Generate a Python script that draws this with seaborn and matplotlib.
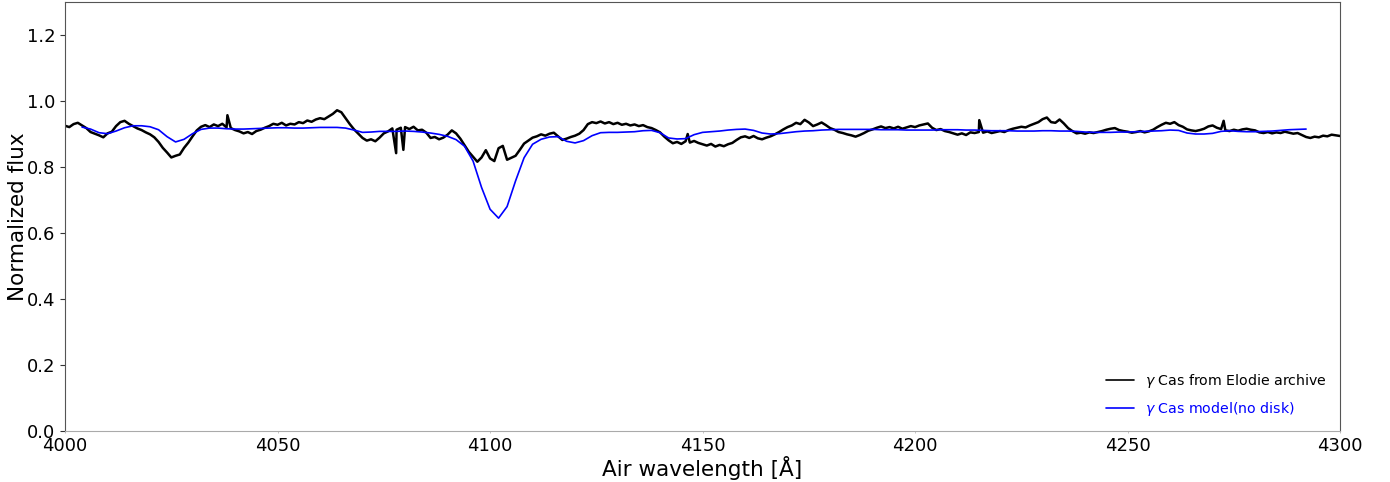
import numpy as np
import pandas as pd
import matplotlib
matplotlib.use("Agg")
import matplotlib.pyplot as plt
import seaborn as sns

# Observed spectrum of gamma Cas (Elodie archive), sampled every 1 A from 4000 to 4300 A
obs_wave = np.arange(4000, 4301, 1)
obs_flux = [
    0.925, 0.921, 0.930, 0.934, 0.926, 0.918, 0.906, 0.901, 0.896, 0.890,
    0.902, 0.907, 0.924, 0.936, 0.940, 0.931, 0.924, 0.917, 0.912, 0.905,
    0.899, 0.890, 0.876, 0.858, 0.844, 0.829, 0.834, 0.838, 0.858, 0.874,
    0.893, 0.911, 0.922, 0.927, 0.921, 0.929, 0.924, 0.931, 0.920, 0.918,
    0.912, 0.908, 0.902, 0.906, 0.900, 0.909, 0.913, 0.919, 0.924, 0.931,
    0.928, 0.934, 0.926, 0.931, 0.929, 0.936, 0.933, 0.941, 0.937, 0.944,
    0.948, 0.945, 0.953, 0.961, 0.972, 0.966, 0.948, 0.930, 0.914, 0.901,
    0.888, 0.880, 0.884, 0.878, 0.889, 0.902, 0.908, 0.917, 0.913, 0.919,
    0.921, 0.915, 0.922, 0.911, 0.913, 0.904, 0.888, 0.891, 0.884, 0.889,
    0.898, 0.911, 0.902, 0.886, 0.866, 0.846, 0.831, 0.816, 0.829, 0.851,
    0.826, 0.818, 0.857, 0.864, 0.822, 0.828, 0.834, 0.852, 0.871, 0.880,
    0.889, 0.893, 0.899, 0.895, 0.901, 0.904, 0.893, 0.882, 0.886, 0.891,
    0.895, 0.901, 0.912, 0.930, 0.936, 0.933, 0.938, 0.932, 0.936, 0.930,
    0.934, 0.928, 0.931, 0.926, 0.929, 0.924, 0.927, 0.921, 0.918, 0.912,
    0.905, 0.892, 0.881, 0.872, 0.876, 0.870, 0.878, 0.874, 0.879, 0.873,
    0.869, 0.865, 0.870, 0.862, 0.867, 0.863, 0.869, 0.873, 0.882, 0.890,
    0.893, 0.888, 0.894, 0.887, 0.884, 0.889, 0.893, 0.899, 0.906, 0.914,
    0.921, 0.926, 0.934, 0.930, 0.943, 0.935, 0.924, 0.929, 0.935, 0.927,
    0.918, 0.913, 0.906, 0.903, 0.899, 0.896, 0.892, 0.897, 0.903, 0.910,
    0.914, 0.919, 0.923, 0.918, 0.921, 0.917, 0.922, 0.916, 0.920, 0.924,
    0.921, 0.926, 0.929, 0.932, 0.919, 0.912, 0.915, 0.909, 0.906, 0.902,
    0.898, 0.902, 0.897, 0.905, 0.903, 0.906, 0.904, 0.908, 0.903, 0.906,
    0.909, 0.906, 0.912, 0.916, 0.919, 0.922, 0.920, 0.926, 0.931, 0.936,
    0.945, 0.950, 0.936, 0.934, 0.944, 0.932, 0.918, 0.909, 0.902, 0.904,
    0.901, 0.905, 0.903, 0.906, 0.909, 0.913, 0.916, 0.918, 0.912, 0.909,
    0.907, 0.904, 0.906, 0.909, 0.905, 0.908, 0.913, 0.921, 0.928, 0.934,
    0.931, 0.936, 0.927, 0.922, 0.914, 0.911, 0.909, 0.912, 0.916, 0.923,
    0.926, 0.919, 0.915, 0.911, 0.909, 0.913, 0.910, 0.914, 0.916, 0.913,
    0.911, 0.905, 0.903, 0.906, 0.902, 0.905, 0.903, 0.907, 0.904, 0.901,
    0.903, 0.897, 0.891, 0.888, 0.892, 0.890, 0.895, 0.893, 0.898, 0.896,
    0.894,
]

# Narrow features (cosmic-ray hits / telluric lines) between the 1 A samples
narrow_wave = [4038.2, 4077.9, 4079.6, 4146.5, 4215.1, 4272.6]
narrow_flux = [0.957, 0.842, 0.852, 0.900, 0.942, 0.940]

# Synthetic photospheric model without a disk, sampled every 2 A
model_wave = np.arange(4004, 4293, 2)
model_flux = [
    0.921, 0.915, 0.904, 0.901, 0.909, 0.919, 0.925, 0.925, 0.922, 0.913,
    0.892, 0.876, 0.884, 0.901, 0.914, 0.918, 0.918, 0.916, 0.915, 0.915,
    0.916, 0.917, 0.918, 0.919, 0.919, 0.918, 0.918, 0.919, 0.920, 0.920,
    0.920, 0.918, 0.912, 0.905, 0.906, 0.908, 0.908, 0.908, 0.909, 0.908,
    0.906, 0.903, 0.899, 0.893, 0.883, 0.863, 0.818, 0.738, 0.672, 0.645,
    0.680, 0.758, 0.828, 0.869, 0.884, 0.891, 0.892, 0.878, 0.873, 0.880,
    0.895, 0.904, 0.905, 0.905, 0.906, 0.907, 0.910, 0.911, 0.904, 0.888,
    0.885, 0.886, 0.898, 0.905, 0.907, 0.909, 0.912, 0.914, 0.915, 0.911,
    0.903, 0.900, 0.901, 0.904, 0.907, 0.909, 0.910, 0.912, 0.913, 0.914,
    0.914, 0.914, 0.914, 0.914, 0.913, 0.913, 0.913, 0.912, 0.912, 0.912,
    0.912, 0.913, 0.913, 0.913, 0.912, 0.912, 0.911, 0.910, 0.910, 0.910,
    0.909, 0.909, 0.909, 0.910, 0.910, 0.909, 0.909, 0.908, 0.906, 0.905,
    0.905, 0.905, 0.906, 0.906, 0.907, 0.908, 0.909, 0.910, 0.912, 0.911,
    0.903, 0.900, 0.900, 0.902, 0.908, 0.910, 0.908, 0.907, 0.907, 0.908,
    0.909, 0.911, 0.913, 0.914, 0.915,
]

obs = pd.DataFrame({
    "wave": np.concatenate([obs_wave, narrow_wave]),
    "flux": np.concatenate([obs_flux, narrow_flux]),
}).sort_values("wave")
model = pd.DataFrame({"wave": model_wave, "flux": model_flux})

sns.set_style("ticks")
plt.rcParams["font.family"] = ["DejaVu Sans"]

fig = plt.figure(figsize=(13.9, 4.82), dpi=100)
ax = fig.add_axes([0.0468, 0.1058, 0.9173, 0.8900])

sns.lineplot(data=obs, x="wave", y="flux", ax=ax, color="black", linewidth=1.8,
             sort=False, estimator=None, label=r"$\gamma$ Cas from Elodie archive")
sns.lineplot(data=model, x="wave", y="flux", ax=ax, color="blue", linewidth=1.2,
             sort=False, estimator=None, label=r"$\gamma$ Cas model(no disk)")

ax.set_xlim(4000, 4300)
ax.set_ylim(0.0, 1.3)
ax.set_xticks([4000, 4050, 4100, 4150, 4200, 4250, 4300])
ax.set_yticks([0.0, 0.2, 0.4, 0.6, 0.8, 1.0, 1.2])
ax.tick_params(axis="y", labelsize=13, colors="#333333", labelcolor="black",
               width=0.8, length=3.5)
ax.tick_params(axis="x", labelsize=13, colors="#bbbbbb", labelcolor="black",
               width=0.6, length=1.5, pad=2.5)
ax.set_xlabel("Air wavelength [Å]", fontsize=15.5, labelpad=1, color="black")
ax.set_ylabel("Normalized flux", fontsize=15.5, labelpad=-1, color="black")
for name, s in ax.spines.items():
    s.set_linewidth(0.8)
    s.set_color("#555555")
ax.spines["bottom"].set_color("#aaaaaa")

leg = ax.legend(loc="lower right", frameon=False, fontsize=10.2,
                labelcolor="linecolor", handlelength=2.0, labelspacing=0.75)
for h in leg.get_lines():
    h.set_linewidth(1.2)

fig.savefig("out.png", dpi=100)
